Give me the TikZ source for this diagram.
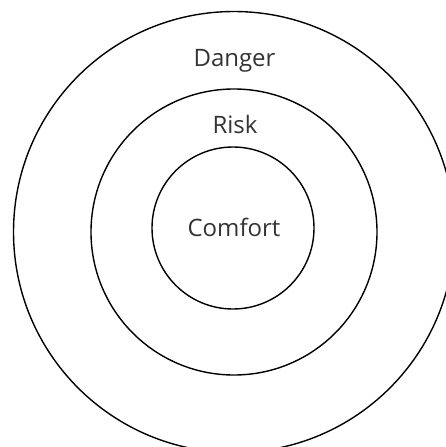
\documentclass[tikz,border=0pt]{standalone}
\usepackage{fontspec}
\setmainfont{Open Sans}
\begin{document}
\begin{tikzpicture}[x=1pt,y=-1pt,
  ring/.style={circle,draw=black,line width=1.4pt,inner sep=0pt},
  lbl/.style={anchor=base,font=\fontsize{24}{28}\selectfont,text=black!80}]
\useasboundingbox (0,0) rectangle (446,447);
\clip (0,0) rectangle (446,447);
\node[ring,minimum size=441pt] (danger) at (234,232) {};
\node[ring,minimum size=286pt] (risk) at (234,232) {};
\node[ring,minimum size=162pt] (comfort) at (233,228) {};
\node[lbl] (tdanger) at (234.5,66) {Danger};
\node[lbl] (trisk) at (235,133) {Risk};
\node[lbl] (tcomfort) at (234,236) {Comfort};
\end{tikzpicture}
\end{document}
